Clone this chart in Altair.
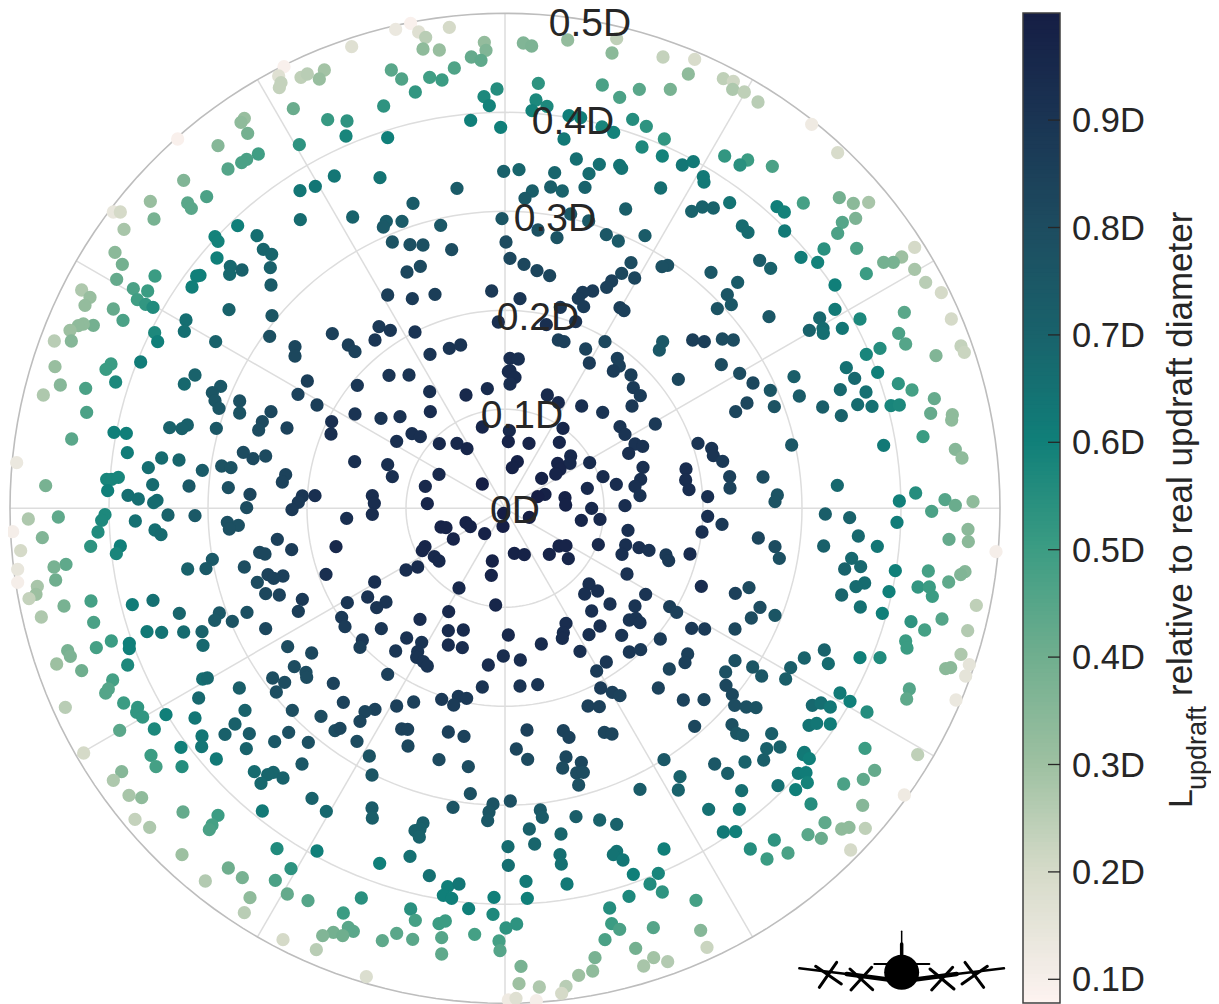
import math
import altair as alt
import pandas as pd

# Points, one list per 3x zoom crop: (x, y) in the crop, and L in
# hundredths of D as judged from the point's colour. Each crop's origin is in CROP_ORIGIN.
CROP_ORIGIN = {"a": (0, 0), "b": (340, 0), "c": (680, 0), "d": (0, 340), "e": (340, 340), "f": (680, 340),
               "g": (0, 664), "h": (340, 664), "i": (680, 664)}
POINTS_A = [(852,200,9),(836,228,17),(843,248,23),(838,263,23),(903,232,24),(922,222,25),(973,210,29),(958,237,31),(880,326,41),(983,359,51),(898,434,53),(733,355,31),(723,367,33),(743,400,39),(654,437,35),(775,462,49),(740,478,47),(725,488,47),(684,507,45),(1003,528,63),(946,559,63),(900,572,63),(901,659,67),(533,417,9),(551,541,36),(620,590,47),(563,609,44),(574,625,44),(451,604,31),(462,657,38),(340,636,14),(361,636,20),(372,688,28),(345,757,34),(367,793,39),(465,828,50),(350,838,42),(713,677,60),(645,710,59),(654,724,59),(771,707,66),(790,748,69),(815,763,69),(651,774,60),(691,799,68),(726,810,71),(811,803,71),(689,823,68),(813,855,73),(600,826,60),(590,828,60),(576,861,60),(443,873,50),(400,866,47),(245,870,27),(270,892,31),(255,916,32),(412,899,49),(437,913,52),(459,922,56),(340,927,42),(687,929,70),(816,947,76),(558,960,66),(369,961,47),(280,976,39),(250,972,33),(235,977,33),(210,991,30),(464,998,57),(553,994,66),(997,1001,85),(809,1009,78),(163,1023,25),(214,1023,35)]
POINTS_B = [(35,140,17),(167,88,13),(212,70,9),(236,96,17),(257,112,25),(328,82,20),(249,147,33),(298,150,31),(433,127,32),(438,151,36),(394,171,42),(423,181,43),(343,204,46),(154,210,44),(185,237,46),(269,232,49),(306,240,50),(226,276,52),(131,318,53),(21,363,53),(18,408,58),(143,413,60),(392,361,60),(482,382,60),(471,267,55),(432,290,57),(448,317,59),(550,129,36),(575,138,37),(683,120,32),(830,116,24),(816,159,34),(969,171,23),(595,250,53),(787,255,47),(839,292,47),(898,268,44),(991,268,38),(588,300,57),(621,319,57),(576,332,59),(687,347,60),(722,353,60),(878,358,55),(919,379,53),(786,381,58),(821,397,59),(672,417,62),(906,441,57),(973,417,52),(967,468,59),(709,477,66),(778,493,65),(839,496,64),(845,505,64),(491,514,71),(537,509,69),(644,518,69),(747,521,67),(120,533,64),(351,565,73),(632,561,72),(667,573,70),(735,562,70),(962,564,66),(577,573,72),(555,595,74),(219,610,73),(38,651,70),(857,627,72),(139,664,73),(186,664,73),(130,681,74),(302,676,75),(486,656,76),(692,642,74),(746,663,74),(594,690,78),(651,713,77),(799,704,75),(915,707,73),(835,723,74),(157,726,77),(210,734,78),(249,735,78),(498,726,80),(335,749,80),(510,775,82),(552,793,82),(241,799,81),(201,816,82),(591,812,83),(629,827,83),(873,788,80),(983,796,78),(966,800,78),(845,820,82),(884,834,83),(143,885,86),(217,896,87),(285,883,86),(455,873,88),(540,896,89),(815,843,85),(800,862,85),(758,873,87),(728,877,87),(715,895,87),(731,920,87),(661,922,89),(840,923,86),(852,932,85),(117,980,88),(151,991,89),(225,996,90),(475,966,92),(619,974,92),(707,965,91)]
POINTS_C = [(44,178,19),(25,222,33),(130,236,24),(160,244,21),(158,268,27),(193,276,24),(234,306,25),(395,373,12),(473,458,19),(134,468,52),(203,480,50),(180,495,54),(277,499,47),(7,495,63),(40,485,62),(70,530,62),(72,546,62),(478,593,39),(520,610,34),(566,607,28),(370,609,48),(149,608,64),(67,621,70),(100,624,70),(35,634,70),(291,620,60),(313,636,59),(527,655,37),(487,667,45),(187,678,67),(204,697,67),(473,700,47),(314,693,62),(704,742,20),(432,747,54),(530,745,47),(665,771,30),(640,787,38),(611,787,39),(363,772,61),(413,787,59),(239,781,73),(272,805,70),(704,808,28),(93,817,75),(559,821,50),(173,847,73),(737,847,25),(465,855,60),(784,878,20),(142,884,76),(154,914,75),(112,926,77),(465,928,62),(673,937,44),(267,950,75),(419,954,68),(540,957,57),(814,957,20),(429,985,67),(487,985,63),(388,991,70),(430,1000,66),(656,1000,47)]
POINTS_D = [(473,5,60),(647,5,70),(885,20,82),(885,48,82),(333,72,50),(318,88,50),(422,66,61),(165,80,31),(347,126,57),(585,105,70),(553,132,68),(662,139,75),(637,158,76),(645,182,76),(657,205,76),(719,183,78),(719,219,77),(181,135,35),(257,145,47),(130,165,27),(922,123,86),(894,163,84),(951,195,86),(260,217,47),(813,215,82),(995,245,92),(993,282,92),(787,245,81),(776,270,80),(861,264,84),(509,263,70),(562,255,71),(546,266,71),(649,265,75),(342,277,60),(379,280,60),(215,297,44),(382,338,61),(485,354,67),(537,360,69),(730,337,80),(759,356,81),(797,348,81),(50,368,13),(445,383,66),(607,391,73),(665,378,77),(693,383,77),(857,404,84),(847,426,84),(137,437,38),(320,418,58),(335,418,58),(355,412,58),(323,452,60),(458,434,67),(567,438,74),(685,443,78),(384,466,66),(415,477,66),(471,481,67),(461,488,67),(750,463,83),(907,468,89),(945,467,92),(895,487,88),(740,503,80),(876,509,88),(85,537,27),(175,531,43),(315,524,57),(305,541,57),(504,525,70),(585,527,74),(406,543,65),(682,547,78),(715,556,78),(688,567,78),(38,575,10),(294,576,56),(465,570,66),(483,584,67),(127,593,36),(832,598,85),(1008,620,95),(875,629,87),(62,632,20),(272,619,53),(361,618,60),(349,641,58),(779,637,82),(795,642,82),(637,658,74),(198,673,43),(162,681,38),(563,687,70),(618,686,74),(733,681,79),(53,688,14),(167,720,40),(804,704,84),(849,708,85),(821,715,84),(772,727,80),(978,703,92),(53,727,10),(112,739,28),(108,763,30),(87,776,23),(797,761,82),(838,765,84),(907,778,88),(273,783,48),(192,798,38),(397,794,61),(459,781,65),(124,831,27),(895,814,86),(538,820,69),(658,819,75),(644,841,74),(741,817,78),(697,844,77),(281,847,47),(441,875,62),(485,877,64),(551,876,67),(606,875,70),(797,866,82),(334,903,50),(388,910,60),(388,926,60),(289,923,48),(609,916,68),(863,920,80),(935,939,82),(203,932,38),(211,949,37)]
POINTS_E = [(25,15,86),(45,35,84),(105,0,89),(270,43,90),(328,25,90),(362,15,90),(510,55,93),(535,57,92),(505,95,94),(510,92,94),(525,112,94),(510,132,93),(147,106,90),(207,105,90),(52,136,89),(269,155,92),(442,146,94),(378,165,95),(45,222,90),(123,235,90),(180,230,91),(271,215,93),(427,261,96),(508,272,95),(505,305,97),(567,310,97),(216,281,92),(241,290,92),(170,304,92),(298,311,95),(351,310,95),(381,326,96),(622,165,94),(655,188,95),(725,198,92),(788,217,90),(669,265,96),(658,307,96),(737,27,84),(748,69,87),(795,5,82),(655,0,85),(672,5,85),(832,55,85),(838,78,85),(820,93,87),(873,105,86),(880,143,87),(901,167,87),(876,198,88),(958,30,75),(968,5,75),(1015,118,82),(840,260,90),(855,283,90),(946,252,88),(885,312,91),(908,319,91),(866,340,92),(692,348,95),(690,370,95),(653,370,97),(660,388,97),(647,402,97),(749,368,94),(532,365,98),(517,383,98),(909,382,92),(902,418,92),(885,439,92),(900,467,91),(789,410,94),(829,433,93),(605,415,98),(742,445,95),(44,365,92),(143,374,92),(157,410,92),(297,403,95),(427,432,99),(256,439,95),(97,467,93),(103,490,93),(97,523,93),(262,491,96),(20,535,92),(615,463,98),(593,470,99),(675,473,98),(677,495,98),(855,497,93),(755,505,95),(780,538,95),(724,541,96),(491,520,100),(568,532,99),(489,559,99),(303,561,97),(318,563,97),(378,548,98),(391,560,98),(434,581,98),(340,597,97),(864,571,92),(775,614,95),(657,618,97),(678,617,97),(628,643,97),(685,656,96),(857,615,92),(897,623,92),(927,631,91),(846,643,92),(978,645,88),(986,662,88),(255,620,96),(247,632,96),(283,650,95),(297,663,95),(523,640,98),(553,644,98),(457,663,98),(454,706,97),(233,681,94),(198,690,93),(861,702,91),(104,726,92),(357,744,95),(747,732,92),(773,753,92),(734,762,92),(917,763,90),(83,771,91),(22,788,89),(138,786,90),(110,803,90),(467,795,96),(810,792,91),(885,798,90),(755,813,92),(989,800,86),(1010,817,85),(326,815,95),(240,838,93),(5,832,88),(15,860,87),(868,840,90),(888,835,90),(900,848,90),(678,850,93),(780,858,92),(124,866,89),(325,872,94),(370,870,94),(505,885,95),(670,878,93),(667,895,93),(747,884,92),(845,886,90),(961,897,87),(200,894,91),(245,907,90),(67,900,88),(60,922,86),(167,933,89),(325,915,93),(367,923,93),(604,912,94),(720,934,92),(868,936,89),(902,929,88),(233,935,90),(230,952,90),(250,965,90),(262,978,90),(490,948,93),(541,960,93),(445,975,93),(799,966,89),(770,993,87),(988,987,83),(143,1003,85)]
POINTS_F = [(38,0,86),(73,5,86),(127,-3,80),(160,0,80),(677,12,45),(600,25,55),(559,43,58),(843,18,23),(853,37,22),(768,47,36),(124,74,80),(179,100,80),(499,83,65),(593,97,60),(342,110,72),(524,115,68),(219,129,82),(655,131,53),(271,151,76),(481,149,68),(696,150,48),(558,156,65),(358,168,73),(763,176,42),(201,189,82),(533,194,67),(576,199,65),(633,197,58),(658,195,57),(428,201,72),(283,200,77),(167,215,83),(752,220,42),(484,227,70),(817,224,33),(815,240,33),(729,290,50),(54,310,90),(95,325,90),(100,347,90),(128,364,88),(335,315,75),(611,316,62),(826,328,35),(846,354,33),(18,387,93),(17,420,93),(27,449,93),(149,410,85),(249,411,80),(150,444,84),(472,436,68),(707,459,55),(292,465,77),(285,485,77),(83,470,92),(658,483,60),(795,479,45),(826,496,41),(879,485,33),(755,514,47),(436,522,72),(509,533,70),(83,529,92),(651,547,61),(126,553,88),(66,576,92),(535,588,68),(864,568,34),(235,594,83),(807,598,42),(865,605,34),(431,618,71),(285,620,80),(592,619,63),(948,635,10),(30,642,94),(298,655,78),(515,655,68),(542,680,68),(494,687,70),(646,692,60),(745,693,48),(855,695,35),(842,704,36),(806,726,43),(554,729,67),(528,740,67),(714,741,52),(748,741,50),(64,739,93),(207,743,81),(166,760,85),(627,755,60),(485,765,69),(757,769,50),(889,796,24),(240,802,80),(541,801,65),(214,834,80),(285,826,76),(607,820,60),(786,837,45),(693,845,53),(35,865,88),(74,867,87),(165,867,82),(734,870,48),(863,872,26),(677,903,50),(681,924,50),(433,930,70),(843,943,27),(373,954,70),(540,953,60),(600,953,56),(23,942,85),(15,968,85),(165,962,78),(445,971,67),(868,974,15),(797,986,34),(812,983,34),(218,981,76),(332,983,72),(857,1008,15),(137,996,78),(245,1008,75),(317,1017,72)]
POINTS_G = [(245,20,40),(170,0,30),(383,3,57),(338,48,48),(325,75,45),(317,87,45),(608,45,66),(622,42,68),(718,72,72),(818,42,79),(854,55,80),(829,84,79),(883,8,80),(918,25,80),(920,40,80),(1000,58,84),(596,102,68),(371,117,50),(196,130,25),(413,130,52),(410,145,52),(428,159,52),(498,152,60),(735,139,70),(877,139,79),(585,162,63),(963,157,80),(705,180,71),(748,209,73),(866,205,78),(463,195,57),(359,199,44),(606,216,63),(675,211,71),(1005,200,80),(824,233,75),(925,235,78),(605,248,63),(739,254,70),(543,250,60),(251,267,20),(453,274,50),(649,285,62),(468,308,48),(546,308,55),(365,323,35),(340,349,27),(906,300,75),(763,323,67),(820,325,69),(803,332,69),(849,342,70),(783,358,68),(387,394,28),(425,401,33),(936,403,70),(979,442,68),(787,441,62),(405,466,23),(449,490,27),(549,444,42),(654,454,50),(636,483,48),(628,497,47),(831,554,56),(951,561,60),(546,572,30),(873,614,53),(685,612,40),(727,641,38),(616,651,26),(826,649,47),(862,690,42),(750,701,33),(924,710,45),(733,746,25),(1000,805,39),(968,815,36),(849,827,20),(949,857,25)]
POINTS_H = [(427,69,90),(540,66,90),(593,62,90),(782,72,87),(817,85,85),(840,95,84),(955,72,84),(305,106,88),(355,97,88),(380,103,88),(341,123,87),(221,114,85),(170,126,85),(10,115,84),(105,136,84),(75,143,83),(60,172,83),(744,126,85),(778,128,85),(0,193,82),(185,195,84),(203,196,84),(325,204,85),(372,217,84),(561,198,85),(670,200,84),(687,220,84),(793,205,83),(816,210,83),(51,232,80),(204,246,82),(529,255,83),(88,276,77),(297,287,81),(563,286,81),(678,279,82),(724,295,82),(385,308,80),(668,312,80),(710,327,80),(730,325,80),(972,287,75),(96,333,76),(716,363,78),(1020,338,70),(900,376,73),(1015,378,70),(391,389,78),(511,411,78),(339,430,77),(459,420,77),(447,444,76),(443,470,75),(96,432,73),(97,462,72),(601,438,74),(607,460,73),(708,458,72),(779,468,70),(830,481,70),(249,477,72),(225,500,71),(240,495,71),(238,519,70),(568,495,71),(663,510,69),(584,540,69),(504,548,67),(972,555,60),(830,562,64),(820,572,64),(849,588,63),(210,577,65),(660,572,66),(664,600,65),(119,598,60),(505,604,66),(268,635,65),(880,631,60),(955,628,58),(558,652,62),(681,660,62),(323,668,60),(357,660,63),(930,660,56),(967,684,53),(310,694,60),(335,703,60),(462,700,60),(867,697,57),(562,703,60),(64,702,54),(212,735,54),(386,734,60),(809,732,55),(10,747,50),(459,751,57),(226,769,48),(297,779,50),(316,771,50),(815,779,50),(530,780,53),(498,792,53),(839,796,47),(940,791,45),(25,790,44),(40,802,44),(8,815,40),(170,808,44),(404,811,48),(127,830,43),(218,826,44),(305,821,45),(477,831,48),(795,827,47),(305,870,43),(480,860,45),(887,853,39),(765,881,38),(941,881,29),(983,893,26),(911,906,28),(543,907,38),(758,921,33),(716,934,30),(79,938,18),(537,959,30),(598,969,27),(678,967,25),(665,988,20),(505,1008,12),(528,1003,17),(589,1010,10)]
POINTS_I = [(10,108,84),(72,107,83),(157,92,82),(138,64,82),(164,124,80),(199,129,78),(228,131,77),(480,87,62),(510,112,60),(688,75,45),(680,105,43),(828,108,13),(397,124,68),(423,117,66),(451,129,63),(561,144,55),(44,187,82),(156,182,78),(170,208,76),(188,214,75),(275,209,72),(387,184,64),(410,178,63),(451,180,61),(555,253,50),(713,272,24),(260,254,71),(300,249,71),(373,265,62),(370,272,62),(388,284,60),(251,288,72),(195,294,70),(104,300,75),(584,319,42),(143,328,72),(550,346,43),(355,328,62),(378,326,61),(382,356,59),(294,365,65),(491,360,47),(185,380,66),(347,377,60),(673,393,12),(393,420,55),(548,424,35),(86,436,65),(178,436,62),(435,476,43),(485,495,33),(507,490,33),(556,493,24),(130,504,62),(167,503,60),(384,512,44),(424,523,41),(283,528,53),(512,558,20),(211,555,55),(324,567,47),(261,585,50),(48,709,48),(62,799,35),(81,850,22)]

RING_VALUES = [0.1, 0.2, 0.3, 0.4]
OUTER_RING = 0.5
SPOKE_ANGLES = list(range(0, 360, 30))
RING_LABELS = ["0D", "0.1D", "0.2D", "0.3D", "0.4D", "0.5D"]
RING_LABEL_SPOTS = [(515, 511), (522, 416), (538, 318), (555, 219), (573, 122), (590, 24)]
CBAR_VALUES = [0.1, 0.2, 0.3, 0.4, 0.5, 0.6, 0.7, 0.8, 0.9]
COLOR_DOMAIN = [0.078, 0.1, 0.2, 0.3, 0.4, 0.5, 0.6, 0.7, 0.8, 0.9, 1.0]
COLOR_RANGE = ["#fdf3f0", "#f5eee9", "#d5dac8", "#9dc0a1", "#6fae8e", "#3b9c83", "#107f79", "#19626b", "#1d4c60", "#1a3453", "#151d44"]

# Icon strokes in crop "i" coordinates: x1, y1, x2, y2, width
PLANE_STROKES = [(358,913,500,930,2.5),(500,930,630,947,4.5),(972,913,830,930,2.5),(830,930,700,947,4.5),
                 (470,895,418,970,3),(407,907,484,960,3),(575,910,513,978,3),(510,915,578,977,3),
                 (818,910,755,978,3),(750,915,822,975,3),(855,895,911,970,3),(922,907,846,960,3),
                 (665,802,665,840,1.5),(665,840,665,885,3.5),(583,900,748,900,2)]
PLANE_BODY = [(665, 925)]

CX, CY, PX_PER_D = 505.0, 508.3, 990.0
def dx(px): return (px - CX) / PX_PER_D
def dy(py): return (CY - py) / PX_PER_D

rows = []
for key, pts in zip("abcdefghi", [POINTS_A, POINTS_B, POINTS_C, POINTS_D, POINTS_E, POINTS_F, POINTS_G, POINTS_H, POINTS_I]):
    ox, oy = CROP_ORIGIN[key]
    for zx, zy, l in pts:
        rows.append({"x": dx(ox + zx / 3), "y": dy(oy + zy / 3), "L": l / 100})
points = pd.DataFrame(rows)

W, H = 1203, 996
xs = alt.Scale(domain=[dx(8), dx(8 + W)], zero=False, nice=False)
ys = alt.Scale(domain=[dy(8 + H), dy(8)], zero=False, nice=False)
X = alt.X("x:Q", scale=xs, axis=None)
Y = alt.Y("y:Q", scale=ys, axis=None)
FONT = "Liberation Sans"
COLOR = alt.Color("L:Q", scale=alt.Scale(domain=COLOR_DOMAIN, range=COLOR_RANGE, interpolate="rgb"), legend=None)

circle_rows = []
for r in RING_VALUES + [OUTER_RING]:
    for a in range(0, 361, 2):
        t = math.radians(a)
        circle_rows.append({"x": r * math.cos(t), "y": r * math.sin(t), "r": r, "a": a})
circles = pd.DataFrame(circle_rows)

rings = alt.Chart(circles[circles.r < OUTER_RING]).mark_line(color="#dddddd", strokeWidth=1.5).encode(
    x=X, y=Y, detail="r:N", order="a:Q")
spine = alt.Chart(circles[circles.r == OUTER_RING]).mark_line(color="#bdbdbd", strokeWidth=1.6).encode(
    x=X, y=Y, detail="r:N", order="a:Q")
spokes_df = pd.DataFrame([{"x": 0.0, "y": 0.0, "x2": OUTER_RING * math.cos(math.radians(a)),
                           "y2": OUTER_RING * math.sin(math.radians(a))} for a in SPOKE_ANGLES])
spokes = alt.Chart(spokes_df).mark_rule(color="#dddddd", strokeWidth=1.5).encode(
    x=X, y=Y, x2=alt.X2("x2:Q"), y2=alt.Y2("y2:Q"))

dots = alt.Chart(points).mark_circle(size=177, opacity=1).encode(x=X, y=Y, color=COLOR)

labels_df = pd.DataFrame([{"x": dx(p[0]), "y": dy(p[1]), "t": t} for p, t in zip(RING_LABEL_SPOTS, RING_LABELS)])
ring_labels = alt.Chart(labels_df).mark_text(font=FONT, fontSize=39, color="#262626", align="center", baseline="middle").encode(
    x=X, y=Y, text="t:N")

# Colour bar, sampled through the same colour scale
def cbar_py(v): return 979.3 - (v - 0.1) * 1074
CB_LEFT, CB_RIGHT, CB_TOP, CB_BOTTOM = 1023, 1060, 13, 1003
steps = 240
cb_rows = []
for i in range(steps):
    v0 = COLOR_DOMAIN[0] + (COLOR_DOMAIN[-1] - COLOR_DOMAIN[0]) * i / steps
    v1 = COLOR_DOMAIN[0] + (COLOR_DOMAIN[-1] - COLOR_DOMAIN[0]) * (i + 1.3) / steps
    cb_rows.append({"x": dx(CB_LEFT), "x2": dx(CB_RIGHT), "y": dy(cbar_py(v0)), "y2": dy(max(cbar_py(v1), CB_TOP)), "L": v0})
cbar = alt.Chart(pd.DataFrame(cb_rows)).mark_rect().encode(x=X, x2=alt.X2("x2:Q"), y=Y, y2=alt.Y2("y2:Q"), color=COLOR)
frame_df = pd.DataFrame([{"x": dx(CB_LEFT), "x2": dx(CB_RIGHT), "y": dy(CB_BOTTOM), "y2": dy(CB_TOP)}])
frame = alt.Chart(frame_df).mark_rect(filled=False, stroke="#3f3f3f", strokeWidth=1.5).encode(
    x=X, x2=alt.X2("x2:Q"), y=Y, y2=alt.Y2("y2:Q"))
ticks_df = pd.DataFrame([{"x": dx(1048), "x2": dx(1060), "y": dy(cbar_py(v))} for v in CBAR_VALUES])
ticks = alt.Chart(ticks_df).mark_rule(color="#262626", strokeWidth=1.3).encode(x=X, x2=alt.X2("x2:Q"), y=Y)
cb_labels_df = pd.DataFrame([{"x": dx(1072), "y": dy(cbar_py(v) + 2), "t": f"{v:.1f}D"} for v in CBAR_VALUES])
cb_labels = alt.Chart(cb_labels_df).mark_text(font=FONT, fontSize=34.5, color="#262626", align="left", baseline="middle").encode(
    x=X, y=Y, text="t:N")

ox, oy = CROP_ORIGIN["i"]
plane_df = pd.DataFrame([{"x": dx(ox + a / 3), "y": dy(oy + b / 3), "x2": dx(ox + c / 3), "y2": dy(oy + d / 3), "w": w}
                         for a, b, c, d, w in PLANE_STROKES])
plane = alt.Chart(plane_df).mark_rule(color="black", strokeCap="round").encode(
    x=X, y=Y, x2=alt.X2("x2:Q"), y2=alt.Y2("y2:Q"), strokeWidth=alt.StrokeWidth("w:Q", scale=None, legend=None))
body_df = pd.DataFrame([{"x": dx(ox + a / 3), "y": dy(oy + b / 3)} for a, b in PLANE_BODY])
body = alt.Chart(body_df).mark_circle(size=1225, color="black", opacity=1).encode(x=X, y=Y)

TITLE_PARTS = [("L", 1192, 808, 34), ("updraft", 1206, 790, 27), ("relative to real updraft diameter", 1192, 696, 35)]
title_df = pd.DataFrame([{"x": dx(a), "y": dy(b), "t": t, "s": s} for t, a, b, s in TITLE_PARTS])
title = alt.Chart(title_df).mark_text(font=FONT, color="#262626", angle=270, align="left", baseline="alphabetic").encode(
    x=X, y=Y, text="t:N", size=alt.Size("s:Q", scale=None, legend=None))

chart = alt.layer(rings, spokes, spine, dots, ring_labels, cbar, frame, ticks, cb_labels, plane, body, title).properties(
    width=W, height=H, padding=0, autosize=alt.AutoSizeParams(type="none"), background="white"
).configure_view(strokeWidth=0)

chart.save("out.html", embed_options={"renderer": "svg", "actions": False})
